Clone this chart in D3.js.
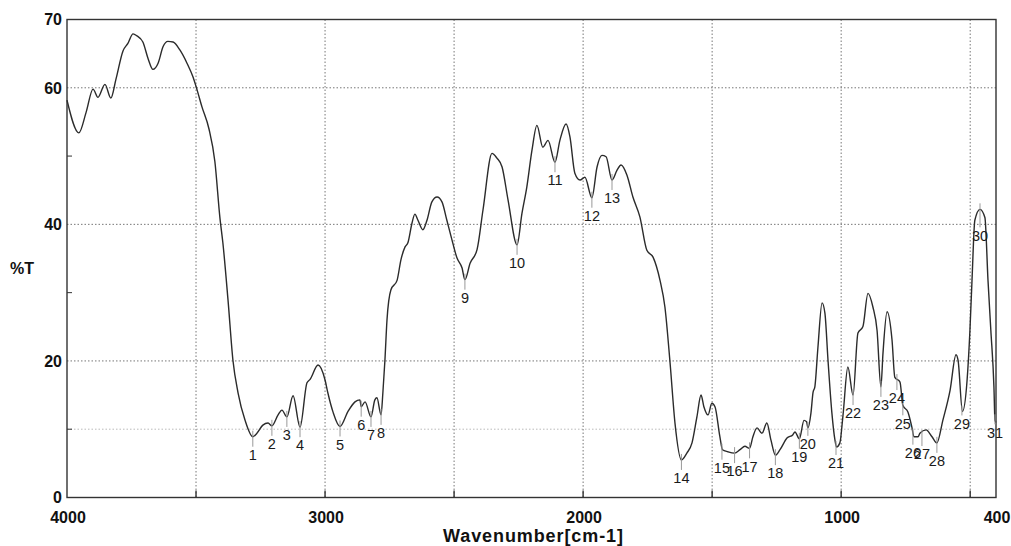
<!DOCTYPE html>
<meta charset="utf-8">
<style>

body {
  margin: 0;
  background: #fff;
}

text {
  font-family: "Liberation Sans", Arial, sans-serif;
  fill: #111;
}

.tick-label {
  font-size: 16px;
  font-weight: bold;
}

.axis-title {
  font-size: 18px;
  font-weight: bold;
}

.peak-label {
  font-size: 14.5px;
  fill: #1a1a1a;
}

.grid line {
  stroke: #777;
  stroke-width: 1;
  stroke-dasharray: 1.5,2;
}

.frame {
  fill: none;
  stroke: #333;
  stroke-width: 1.4;
}

.spectrum {
  fill: none;
  stroke: #2b2b2b;
  stroke-width: 1.4;
}

.peak-tick {
  stroke: #999;
  stroke-width: 1;
}

</style>
<svg width="1011" height="546"></svg>
<script src="https://d3js.org/d3.v7.min.js"></script>
<script>

// spectrum (wavenumber in cm-1, transmittance in %)
var wavenumbers = [
  4000, 3954, 3926, 3899, 3880, 3853, 3830, 3810, 3783, 3764,
  3744, 3729, 3706, 3686, 3667, 3647, 3628, 3609, 3589, 3562,
  3535, 3512, 3496, 3477, 3450, 3427, 3407, 3396, 3376, 3357,
  3337, 3310, 3280, 3264, 3241, 3221, 3206, 3182, 3167, 3148,
  3124, 3097, 3070, 3058, 3027, 3000, 2989, 2969, 2942, 2911,
  2884, 2865, 2860, 2845, 2822, 2807, 2799, 2783, 2776, 2768,
  2760, 2745, 2721, 2706, 2690, 2679, 2663, 2652, 2640, 2621,
  2605, 2586, 2566, 2547, 2528, 2508, 2489, 2469, 2458, 2438,
  2411, 2388, 2353, 2334, 2314, 2291, 2256, 2237, 2218, 2198,
  2179, 2156, 2136, 2109, 2090, 2066, 2051, 2032, 2012, 1993,
  1966, 1946, 1927, 1911, 1888, 1869, 1853, 1830, 1807, 1780,
  1753, 1729, 1702, 1683, 1663, 1644, 1619, 1598, 1578, 1559,
  1543, 1532, 1516, 1501, 1489, 1470, 1460, 1439, 1413, 1392,
  1373, 1355, 1342, 1326, 1307, 1288, 1272, 1255, 1237, 1210,
  1187, 1179, 1162, 1144, 1134, 1129, 1117, 1109, 1102, 1090,
  1074, 1063, 1051, 1036, 1024, 1018, 1005, 993, 974, 954,
  935, 916, 896, 877, 861, 846, 838, 822, 803, 792,
  772, 761, 741, 726, 718, 702, 695, 671, 648, 629,
  606, 578, 555, 547, 530, 512, 501, 493, 482, 462,
  443, 431, 420, 408, 404, 400
];

var transmittance = [
  58.2, 53.4, 56.4, 59.8, 58.6, 60.5, 58.5, 61.3, 65.4, 66.5,
  67.9, 67.6, 66.7, 64.3, 62.7, 63.6, 66.0, 66.8, 66.7, 65.5,
  63.6, 61.6, 59.7, 57.2, 54.0, 49.2, 40.8, 37.3, 28.9, 20.1,
  15.3, 11.3, 8.9, 9.4, 10.6, 10.9, 10.5, 12.1, 12.8, 11.8,
  14.9, 10.3, 16.8, 17.3, 19.4, 17.2, 15.3, 12.5, 10.4, 12.6,
  14.0, 14.3, 13.3, 14.0, 11.8, 14.3, 14.6, 12.1, 15.3, 20.1,
  26.0, 30.4, 31.8, 34.8, 36.7, 37.3, 40.2, 41.5, 40.6, 39.2,
  40.6, 43.3, 44.0, 43.3, 40.6, 37.7, 35.1, 33.6, 31.9, 34.3,
  36.3, 42.1, 50.4, 49.7, 48.4, 43.6, 37.0, 41.6, 45.5, 50.9,
  54.5, 51.3, 52.3, 49.1, 52.3, 54.7, 52.8, 47.5, 46.5, 46.9,
  43.9, 48.4, 50.1, 49.9, 46.5, 47.9, 48.7, 47.2, 44.0, 41.1,
  36.2, 35.2, 31.8, 27.9, 19.7, 10.9, 5.5, 6.5, 8.0, 11.8,
  15.0, 13.3, 12.1, 13.8, 13.3, 8.9, 7.0, 6.7, 6.5, 7.0,
  7.5, 7.2, 8.9, 10.2, 9.4, 10.9, 8.4, 6.2, 7.0, 8.7,
  9.2, 9.6, 8.6, 11.3, 11.1, 10.2, 12.4, 15.4, 16.2, 22.0,
  28.5, 27.0, 20.1, 12.4, 8.4, 7.4, 8.0, 12.0, 19.1, 15.0,
  24.1, 25.0, 29.9, 27.9, 24.5, 16.2, 21.1, 27.2, 23.1, 17.6,
  16.9, 13.5, 12.5, 10.3, 8.9, 8.9, 9.4, 9.9, 8.9, 8.0,
  11.3, 15.7, 20.9, 20.1, 12.6, 17.2, 24.5, 31.8, 40.6, 42.2,
  41.0, 31.8, 24.5, 16.2, 11.3, 11.0
];

// numbered peak marks
var peakNumbers = d3.range(1, 32);
var peakWavenumbers = [
  3280, 3206, 3148, 3097, 2942, 2860, 2822, 2783, 2458, 2256,
  2109, 1966, 1888, 1619, 1462, 1413, 1355, 1255, 1162, 1129,
  1020, 954, 846, 784, 761, 722, 687, 629, 532, 462,
  404
];
var peakTransmittance = [
  8.9, 10.5, 11.8, 10.3, 10.4, 13.3, 11.8, 12.1, 31.9, 37.0,
  49.1, 43.9, 46.5, 5.5, 7.0, 6.5, 7.2, 6.2, 8.6, 10.2,
  7.4, 15.0, 16.2, 17.2, 13.5, 9.2, 9.0, 8.0, 12.6, 42.2,
  11.3
];

var xTicks = [4000, 3000, 2000, 1000, 400];
var xGrid = [3500, 3000, 2500, 2000, 1500, 1000, 500];
var yTicks = [0, 20, 40, 60, 70];
var yGrid = [10, 20, 40, 60];
var yMinor = [10, 30, 50];

var svg = d3.select("svg"),
    plotLeft = 67, plotRight = 996, plotTop = 19.5, plotBottom = 497.5;

var x = d3.scaleLinear().domain([4000, 400]).range([plotLeft, plotRight]);
var y = d3.scaleLinear().domain([0, 70]).range([plotBottom, plotTop]);

// grid
var grid = svg.append("g").attr("class", "grid");
grid.selectAll(".v").data(xGrid).enter().append("line")
    .attr("x1", d => x(d)).attr("x2", d => x(d))
    .attr("y1", plotTop).attr("y2", plotBottom);
grid.selectAll(".h").data(yGrid).enter().append("line")
    .attr("x1", plotLeft).attr("x2", plotRight)
    .attr("y1", d => y(d)).attr("y2", d => y(d))
    .style("stroke-opacity", d => d === 10 ? 0.5 : 1);

// frame
svg.append("rect").attr("class", "frame")
    .attr("x", plotLeft).attr("y", plotTop)
    .attr("width", plotRight - plotLeft).attr("height", plotBottom - plotTop);

// small ticks
svg.selectAll(".ymin").data(yMinor).enter().append("line")
    .attr("x1", plotLeft).attr("x2", plotLeft + 5)
    .attr("y1", d => y(d)).attr("y2", d => y(d))
    .attr("stroke", "#333");
svg.selectAll(".xmin").data(xGrid).enter().append("line")
    .attr("x1", d => x(d)).attr("x2", d => x(d))
    .attr("y1", plotBottom).attr("y2", plotBottom - 7)
    .attr("stroke", "#333").attr("stroke-width", 1.4);

// tick labels
svg.selectAll(".ylab").data(yTicks).enter().append("text")
    .attr("class", "tick-label")
    .attr("x", plotLeft - 5)
    .attr("y", d => y(d))
    .attr("dy", "0.36em")
    .attr("text-anchor", "end")
    .text(d => d);

svg.selectAll(".xlab").data(xTicks).enter().append("text")
    .attr("class", "tick-label")
    .attr("x", d => x(d) + 1)
    .attr("y", 517)
    .attr("dy", "0.36em")
    .attr("text-anchor", "middle")
    .text(d => d);

svg.append("text")
    .attr("class", "tick-label")
    .attr("x", 10)
    .attr("y", 268)
    .attr("dy", "0.36em")
    .text("%T");

svg.append("text")
    .attr("class", "axis-title")
    .attr("x", 533)
    .attr("y", 536)
    .attr("dy", "0.36em")
    .attr("text-anchor", "middle")
    .attr("textLength", 180)
    .text("Wavenumber[cm-1]");

// spectrum
var points = wavenumbers.map((w, i) => [w, transmittance[i]]);
var line = d3.line()
    .x(d => x(d[0]))
    .y(d => y(d[1]))
    .curve(d3.curveMonotoneX);

svg.append("path")
    .datum(points)
    .attr("class", "spectrum")
    .attr("d", line);

// peak numbers
var nudge = {20: -2, 21: -2, 29: -6, 30: 8, 31: -6};
var peaks = peakNumbers.map((n, i) => ({n: n, w: peakWavenumbers[i], t: peakTransmittance[i]}));

svg.selectAll(".peak-tick").data(peaks).enter().append("line")
    .attr("class", "peak-tick")
    .attr("x1", d => x(d.w)).attr("x2", d => x(d.w))
    .attr("y1", d => y(d.t) - 6)
    .attr("y2", d => y(d.t) + 10 + (nudge[d.n] || 0));

svg.selectAll(".peak-label").data(peaks).enter().append("text")
    .attr("class", "peak-label")
    .attr("x", d => x(d.w))
    .attr("y", d => y(d.t) + 18 + (nudge[d.n] || 0))
    .attr("dy", "0.36em")
    .attr("text-anchor", "middle")
    .text(d => d.n);

</script>
